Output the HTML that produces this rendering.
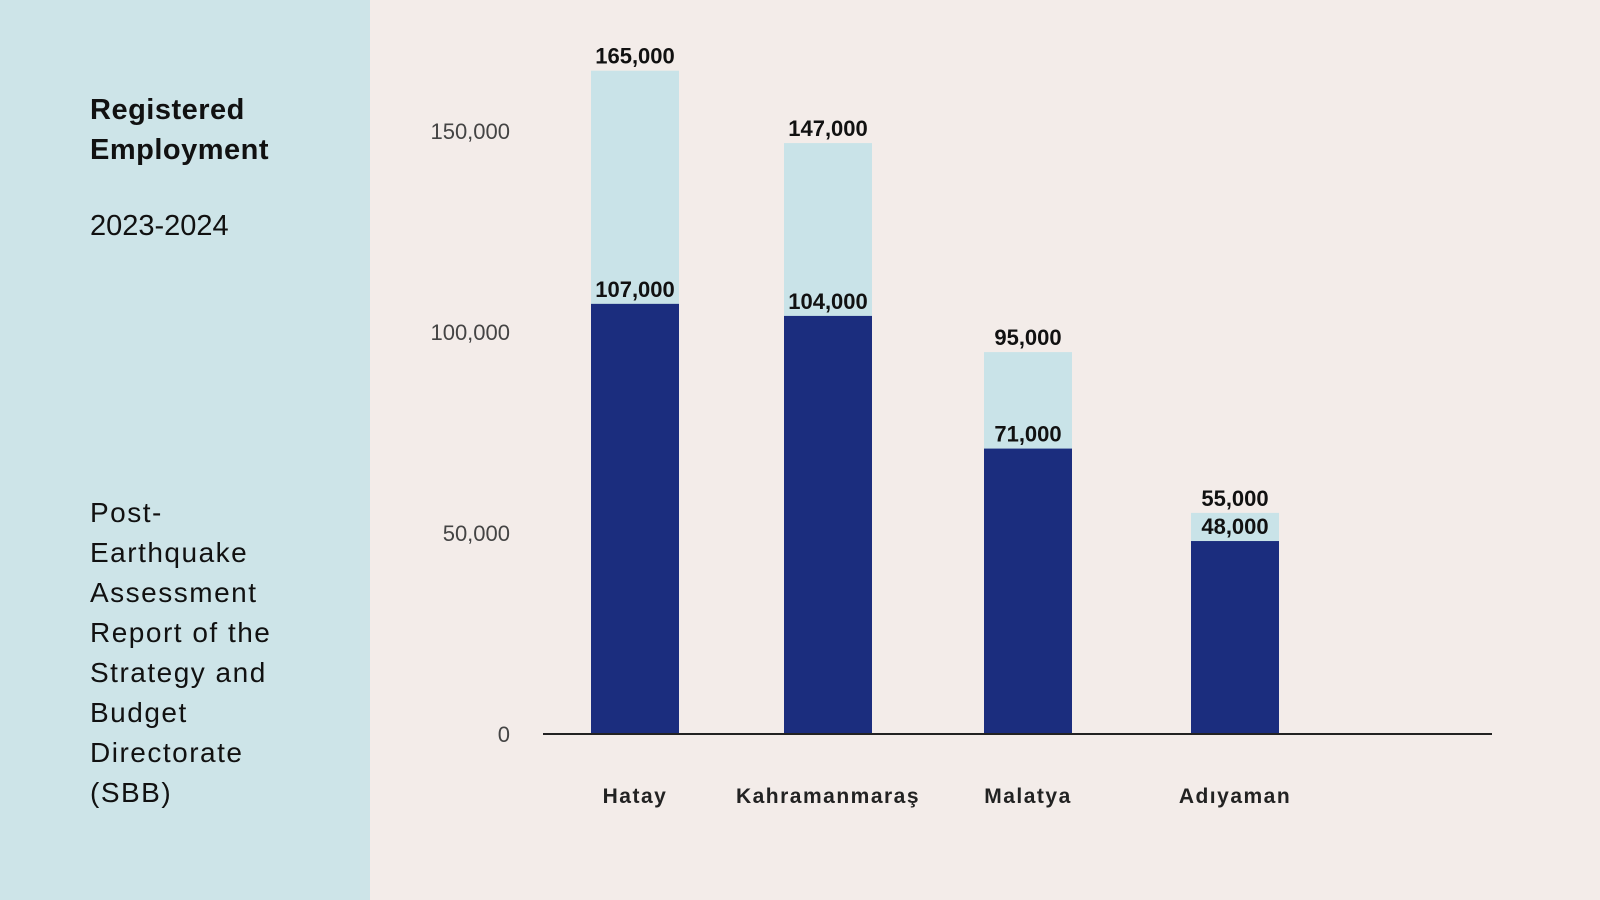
<!DOCTYPE html>
<html><head><meta charset="utf-8">
<style>
body{margin:0;width:1600px;height:900px;background:#f3ece9;font-family:"Liberation Sans",sans-serif;overflow:hidden;position:relative}
#side{position:absolute;left:0;top:0;width:370px;height:900px;background:#cde4e8}
.t{position:absolute;left:90px;color:#111}
</style></head><body>
<div id="side">
<div class="t" style="top:90px;font-size:29px;font-weight:bold;line-height:40px;letter-spacing:0.5px">Registered<br>Employment</div>
<div class="t" style="top:210px;font-size:29px">2023-2024</div>
<div class="t" style="top:493px;font-size:28px;line-height:40px;letter-spacing:1.5px">Post-<br>Earthquake<br>Assessment<br>Report of the<br>Strategy and<br>Budget<br>Directorate<br>(SBB)</div>
</div>
<svg id="chart" width="1600" height="900" style="position:absolute;left:0;top:0"></svg>
<script>
const categories=["Hatay","Kahramanmaraş","Malatya","Adıyaman"];
const seriesBase=[107000,104000,71000,48000];
const seriesTotal=[165000,147000,95000,55000];
const tickValues=[0,50000,100000,150000];
const tickLabels=["0","50,000","100,000","150,000"];
const svg=document.getElementById('chart');
const NS="http://www.w3.org/2000/svg";
const y0=734,k=4.02/1000;
const y=v=>y0-v*k;
const xc=i=>[635,828,1028,1235][i]; // band centers
const bw=88;
function el(t,a,txt){const e=document.createElementNS(NS,t);for(const p in a)e.setAttribute(p,a[p]);if(txt!==undefined)e.textContent=txt;svg.appendChild(e);return e;}
tickValues.forEach((v,i)=>{
 const e=el('text',{x:510,y:y(v)+8,'text-anchor':'end','font-size':22,fill:'#444'},tickLabels[i]);
 
 
});
const fmt=v=>v.toLocaleString('en-US');
categories.forEach((c,i)=>{
 const cx=xc(i);
 const r1=el('rect',{x:cx-bw/2,y:y(seriesTotal[i]),width:bw,height:y0-y(seriesTotal[i]),fill:'#c9e3e8'});
 
 
 const r2=el('rect',{x:cx-bw/2,y:y(seriesBase[i]),width:bw,height:y0-y(seriesBase[i]),fill:'#1b2d7e'});
 
 
 const l1=el('text',{x:cx,y:y(seriesTotal[i])-7,'text-anchor':'middle','font-size':22,'font-weight':'bold',fill:'#111'},fmt(seriesTotal[i]));
 
 
 const l2=el('text',{x:cx,y:y(seriesBase[i])-7,'text-anchor':'middle','font-size':22,'font-weight':'bold',fill:'#111'},fmt(seriesBase[i]));
 
 
 const cl=el('text',{x:cx,y:803,'text-anchor':'middle','font-size':21,'font-weight':'bold','letter-spacing':'1.5',fill:'#222'},c);
 
 
});
const ax=el('line',{x1:543,x2:1492,y1:y0,y2:y0,stroke:'#222','stroke-width':2});


</script>
</body></html>
